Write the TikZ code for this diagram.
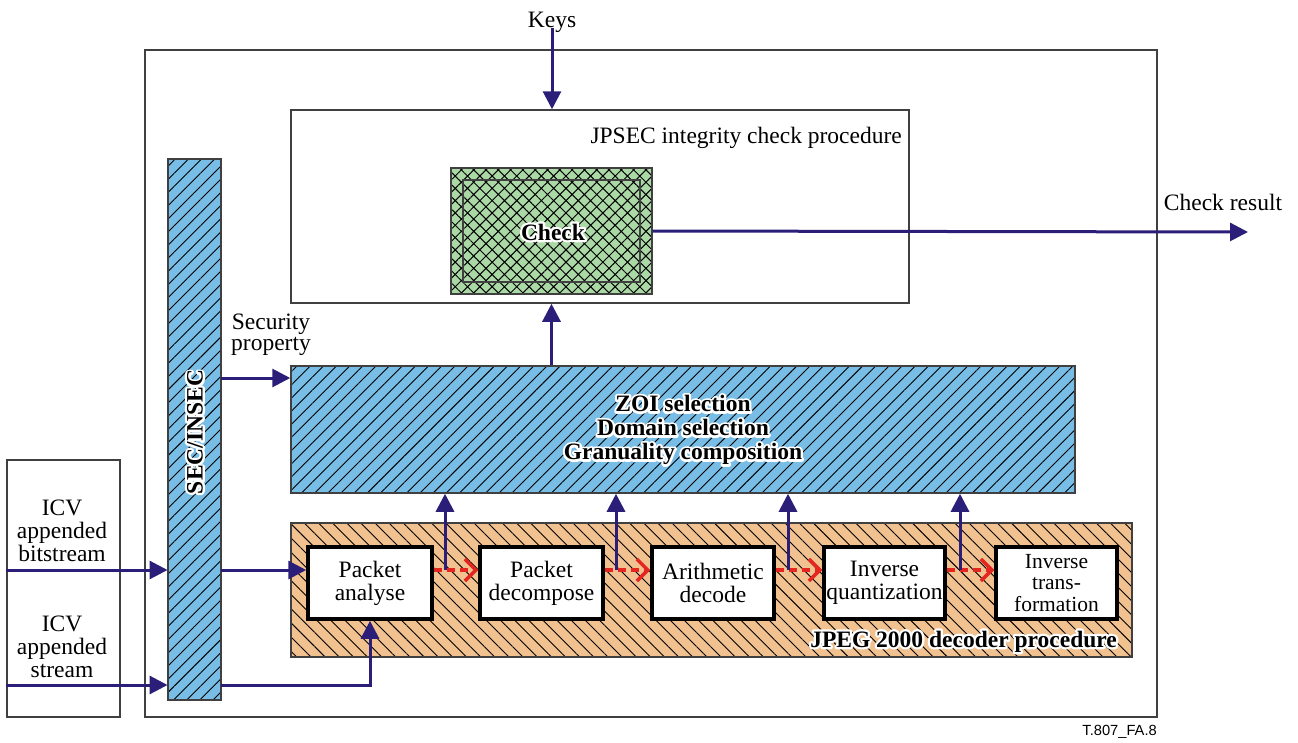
\documentclass[tikz,border=0pt]{standalone}
\usepackage{fontspec}
\setmainfont{Liberation Serif}
\newfontfamily\arialf{Liberation Sans}
\usetikzlibrary{arrows.meta,patterns.meta,calc}
\definecolor{navy}{RGB}{42,30,120}
\definecolor{redA}{RGB}{228,37,32}
\definecolor{blueF}{RGB}{120,189,230}
\definecolor{orangeF}{RGB}{241,193,143}
\definecolor{greenF}{RGB}{171,217,166}
\definecolor{boxgray}{RGB}{64,64,64}
\newcommand\fs{\fontsize{23.5}{23}\selectfont}
\newcommand\halo[1]{\leavevmode\rlap{\textcolor{white}{\special{pdf:literal direct 2 Tr 4.5 w 1 j}#1\special{pdf:literal direct 0 Tr 1 w}}}#1}
\tikzset{
  box/.style={draw=boxgray, line width=1.5pt, inner sep=0pt},
  proc/.style={draw=black, line width=3.5pt, fill=white, inner sep=0pt, minimum height=72pt, align=center, font=\fs},
  arr/.style={draw=navy, line width=3pt, -{Triangle[length=18pt,width=18pt]}},
  darr/.style={draw=redA, line width=3.5pt, dash pattern=on 8pt off 5pt, -{Straight Barb[length=11pt,width=22pt]}},
  lbl/.style={font=\fs, align=center, inner sep=0pt},
  bluehatch/.style={preaction={fill=blueF}, pattern={Lines[angle=45,distance=9.3pt,line width=0.9pt]}, pattern color=black},
  orangehatch/.style={preaction={fill=orangeF}, pattern={Lines[angle=-45,distance=10pt,line width=0.9pt]}, pattern color=black},
  greenhatch/.style={preaction={fill=greenF}, pattern={Hatch[angle=45,distance=8.7pt,line width=1pt]}, pattern color=black}
}
\begin{document}
\begin{tikzpicture}[x=1pt,y=-1pt]
\useasboundingbox (0,0) rectangle (1298,742);
% frames
\node[box, minimum width=1012pt, minimum height=667pt] (outer) at (651,383.5) {};
\node[box, minimum width=113pt, minimum height=257pt] (icv) at (63.5,588.5) {};
\node[box, fill=white, minimum width=618pt, minimum height=193pt] (jpsec) at (600,206.5) {};
\node[box, greenhatch, minimum width=201pt, minimum height=126pt] (check) at (551.5,231) {};
\node[box, minimum width=177pt, minimum height=102pt] (checkin) at (551.5,231) {};
\node[lbl, font=\fs\bfseries] (checkt) at (553,232) {\halo{Check}};
\node[box, bluehatch, minimum width=53pt, minimum height=541pt] (sec) at (194.5,429.5) {};
\node[lbl, font=\fs\bfseries, rotate=90] (sect) at (195,432) {\halo{SEC/INSEC}};
\node[box, bluehatch, minimum width=784pt, minimum height=127pt] (zoi) at (683,429.5) {};
\node[lbl, font=\fs\bfseries] (zoit) at (683,430) {\halo{ZOI selection}\\[1pt]\halo{Domain selection}\\[1pt]\halo{Granuality composition}};
\node[box, orangehatch, minimum width=841pt, minimum height=134pt] (jpeg) at (711.5,590) {};
\node[lbl, font=\fs\bfseries, anchor=base east] (jpegt) at (1117,647) {\halo{JPEG 2000 decoder procedure}};
% process boxes
\node[proc, minimum width=124pt] (pa) at (370,583) {Packet\\analyse};
\node[proc, minimum width=123pt] (pd) at (541.5,583) {Packet\\decompose};
\node[proc, minimum width=122pt] (ad) at (713,583) {Arithmetic\\decode};
\node[proc, minimum width=121pt] (iq) at (884.5,583) {Inverse\\quantization};
\node[proc, minimum width=121pt, font=\fontsize{21.5}{21.5}\selectfont] (it) at (1056.5,583) {Inverse\\trans-\\formation};
% labels
\node[lbl, anchor=base] (keys) at (552,27) {Keys};
\node[lbl, anchor=base east] (jpsect) at (902,143) {JPSEC integrity check procedure};
\node[lbl, anchor=base] (crt) at (1223,210) {Check result};
\node[lbl, font=\fontsize{23.5}{21}\selectfont] (spt) at (271,335) {Security\\property};
\node[lbl] (icv1) at (62,531) {ICV\\appended\\bitstream};
\node[lbl] (icv2) at (62,647) {ICV\\appended\\stream};
\node[lbl, font=\arialf\fontsize{14.7}{15}\selectfont, anchor=base east] (fig) at (1157,735) {T.807\_FA.8};
% coordinates
\coordinate (rowA) at (0,570);
\coordinate (rowB) at (0,685);
\coordinate (sp) at (0,378);
\coordinate (cr) at (1248,232);
\coordinate (v1) at (445,570);
\coordinate (v2) at (616,570);
\coordinate (v3) at (788,570);
\coordinate (v4) at (960,570);
% connectors
\draw[arr] ([yshift=4pt]keys.south) -- (keys.south |- jpsec.north);
\draw[arr] (check.east) -- (cr);
\draw[arr] (zoi.north -| check.south) -- (jpsec.south -| check.south);
\draw[arr] (sec.east |- sp) -- (zoi.west |- sp);
\draw[arr] (icv.west |- rowA) -- (sec.west |- rowA);
\draw[arr] (sec.east |- rowA) -- (pa.west |- rowA);
\draw[arr] (icv.west |- rowB) -- (sec.west |- rowB);
\draw[arr] (sec.east |- rowB) -| (pa.south);
\draw[darr] (pa.east |- rowA) -- (pd.west |- rowA);
\draw[darr] (pd.east |- rowA) -- (ad.west |- rowA);
\draw[darr] (ad.east |- rowA) -- (iq.west |- rowA);
\draw[darr] (iq.east |- rowA) -- (it.west |- rowA);
\draw[arr] (v1) -- (v1 |- zoi.south);
\draw[arr] (v2) -- (v2 |- zoi.south);
\draw[arr] (v3) -- (v3 |- zoi.south);
\draw[arr] (v4) -- (v4 |- zoi.south);
\end{tikzpicture}
\end{document}
